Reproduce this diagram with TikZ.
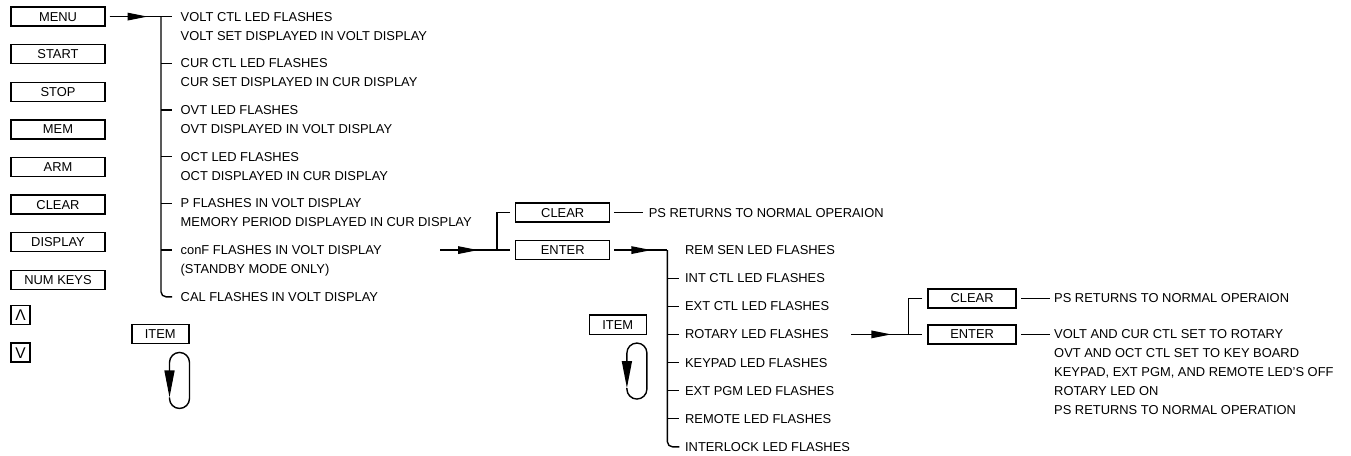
\documentclass[tikz,border=0pt]{standalone}
\usepackage{fontspec}
\setmainfont{Liberation Sans}
\usetikzlibrary{arrows.meta,positioning}

\begin{document}
\begin{tikzpicture}[x=1pt,y=1pt,line width=1.4pt,node distance=37.6pt,
	key node/.style={draw,minimum width=94pt,minimum height=19pt,inner sep=0pt,
		text height=9pt,text depth=0pt,font=\fontsize{12.9}{14}\selectfont},
	small key/.style={draw,minimum size=19pt,inner sep=0pt,text height=11pt,text depth=0pt,
		font=\fontsize{15.5}{16}\selectfont},
	item node/.style={anchor=west,inner sep=0pt,text height=9pt,text depth=0pt,
		font=\fontsize{12.9}{14}\selectfont},
	flow/.style={-{Triangle[length=20pt,width=7.5pt]}},
	item loop/.style={-{Triangle[length=27pt,width=10pt]},rounded corners=10pt}]
	
	\useasboundingbox (0,0) rectangle (1351,-455);
	
	\node[key node] (menu) at (58,-16.6) {MENU};
	\node[key node] (start) [below of=menu] {START};
	\node[key node] (stop) [below of=start] {STOP};
	\node[key node] (mem) [below of=stop] {MEM};
	\node[key node] (arm) [below of=mem] {ARM};
	\node[key node] (clear) [below of=arm] {CLEAR};
	\node[key node] (display) [below of=clear] {DISPLAY};
	\node[key node] (numkeys) [below of=display] {NUM KEYS};
	\node[small key] (up) at (20.5,-315) {Λ};
	\node[small key] (down) [below of=up] {V};
	
	\node[item node] (voltctl) at (180,-16.6) {VOLT CTL LED FLASHES};
	\node[item node] (voltset) [below=19pt of voltctl.west,anchor=west] {VOLT SET DISPLAYED IN VOLT DISPLAY};
	\node[item node] (curctl) [below=46.7pt of voltctl.west,anchor=west] {CUR CTL LED FLASHES};
	\node[item node] (curset) [below=19pt of curctl.west,anchor=west] {CUR SET DISPLAYED IN CUR DISPLAY};
	\node[item node] (ovtled) [below=46.7pt of curctl.west,anchor=west] {OVT LED FLASHES};
	\node[item node] (ovtdisp) [below=19pt of ovtled.west,anchor=west] {OVT DISPLAYED IN VOLT DISPLAY};
	\node[item node] (octled) [below=46.7pt of ovtled.west,anchor=west] {OCT LED FLASHES};
	\node[item node] (octdisp) [below=19pt of octled.west,anchor=west] {OCT DISPLAYED IN CUR DISPLAY};
	\node[item node] (pflash) [below=46.7pt of octled.west,anchor=west] {P FLASHES IN VOLT DISPLAY};
	\node[item node] (memper) [below=19pt of pflash.west,anchor=west] {MEMORY PERIOD DISPLAYED IN CUR DISPLAY};
	\node[item node] (conf) [below=46.7pt of pflash.west,anchor=west] {conF FLASHES IN VOLT DISPLAY};
	\node[item node] (standby) [below=19pt of conf.west,anchor=west] {(STANDBY MODE ONLY)};
	\node[item node] (cal) [below=46.7pt of conf.west,anchor=west] {CAL FLASHES IN VOLT DISPLAY};
	
	\coordinate (mbus) at (161,-16.6);
	\draw ([xshift=4pt]menu.east) -- (mbus);
	\draw[flow] ([xshift=4pt]menu.east) -- ++(38,0);
	\draw[rounded corners=5pt] (mbus) |- ([xshift=-8pt]cal.west);
	\draw (voltctl.west -| mbus) -- ([xshift=-8pt]voltctl.west)
		(curctl.west -| mbus) -- ([xshift=-8pt]curctl.west)
		(ovtled.west -| mbus) -- ([xshift=-8pt]ovtled.west)
		(octled.west -| mbus) -- ([xshift=-8pt]octled.west)
		(pflash.west -| mbus) -- ([xshift=-8pt]pflash.west)
		(conf.west -| mbus) -- ([xshift=-8pt]conf.west);
	
	\node[key node,minimum width=57pt,minimum height=19.5pt] (item) at (160.3,-334) {ITEM};
	\draw[item loop] ([shift={(-20,-53)}]item.south east) coordinate (l1) -- ++(0,-11) -- ++(20,0)
		-- ++(0,56) -- ++(-20,0) -- (l1);
	
	\coordinate (confout) at ([xshift=260pt]conf.west);
	\node[key node] (enter) [right=75pt of confout] {ENTER};
	\node[key node] (clear2) [above of=enter] {CLEAR};
	\node[item node] (normal) [right=37.7pt of clear2] {PS RETURNS TO NORMAL OPERAION};
	\coordinate (cbus) at ([xshift=-18pt]enter.west);
	\draw (confout) -- ([xshift=-5pt]enter.west);
	\draw[flow] (confout) -- ++(38,0);
	\draw ([xshift=-5pt]clear2.west) -| (cbus);
	\draw ([xshift=4pt]clear2.east) -- ([xshift=-5pt]normal.west);
	
	\coordinate (ebus) at ([xshift=57pt]enter.east);
	\draw ([xshift=4pt]enter.east) -- (ebus);
	\draw[flow] ([xshift=4pt]enter.east) -- ++(37,0);
	\node[item node] (remsen) [right=17pt of ebus] {REM SEN LED FLASHES};
	\node[item node] (intctl) [below=28.1pt of remsen.west,anchor=west] {INT CTL LED FLASHES};
	\node[item node] (extctl) [below=28.1pt of intctl.west,anchor=west] {EXT CTL LED FLASHES};
	\node[item node] (rotary) [below=28.1pt of extctl.west,anchor=west] {ROTARY LED FLASHES};
	\node[item node] (keypad) [below=28.1pt of rotary.west,anchor=west] {KEYPAD LED FLASHES};
	\node[item node] (extpgm) [below=28.1pt of keypad.west,anchor=west] {EXT PGM LED FLASHES};
	\node[item node] (remote) [below=28.1pt of extpgm.west,anchor=west] {REMOTE LED FLASHES};
	\node[item node] (interlock) [below=28.1pt of remote.west,anchor=west] {INTERLOCK LED FLASHES};
	\draw[rounded corners=5pt] (ebus) |- ([xshift=-5pt]interlock.west);
	\draw (intctl.west -| ebus) -- ([xshift=-5pt]intctl.west)
		(extctl.west -| ebus) -- ([xshift=-5pt]extctl.west)
		(rotary.west -| ebus) -- ([xshift=-5pt]rotary.west)
		(keypad.west -| ebus) -- ([xshift=-5pt]keypad.west)
		(extpgm.west -| ebus) -- ([xshift=-5pt]extpgm.west)
		(remote.west -| ebus) -- ([xshift=-5pt]remote.west);
	
	\node[key node,minimum width=57pt,minimum height=19.5pt] (item2) at (617.7,-324.6) {ITEM};
	\draw[item loop] ([shift={(-20,-53)}]item2.south east) coordinate (l2) -- ++(0,-11) -- ++(20,0)
		-- ++(0,56) -- ++(-20,0) -- (l2);
	
	\coordinate (rotout) at ([xshift=167pt]rotary.west);
	\coordinate (rbus) at ([xshift=57pt]rotout);
	\node[key node,minimum width=88pt] (enter3) [right=19pt of rbus] {ENTER};
	\node[key node,minimum width=88pt] (clear3) [node distance=36pt,above of=enter3] {CLEAR};
	\node[item node] (normal3) [right=36.7pt of clear3] {PS RETURNS TO NORMAL OPERAION};
	\node[item node] (setrot) [right=36.7pt of enter3] {VOLT AND CUR CTL SET TO ROTARY};
	\node[item node] (setkey) [below=19pt of setrot.west,anchor=west] {OVT AND OCT CTL SET TO KEY BOARD};
	\node[item node] (ledoff) [below=19pt of setkey.west,anchor=west] {KEYPAD, EXT PGM, AND REMOTE LED'S OFF};
	\node[item node] (ledon) [below=19pt of ledoff.west,anchor=west] {ROTARY LED ON};
	\node[item node] (normop) [below=19pt of ledon.west,anchor=west] {PS RETURNS TO NORMAL OPERATION};
	\draw (rotout) -- ([xshift=-5pt]enter3.west);
	\draw[flow] (rotout) -- ++(40,0);
	\draw ([xshift=-5pt]clear3.west) -| (rbus);
	\draw ([xshift=4.5pt]clear3.east) -- ([xshift=-3.5pt]normal3.west);
	\draw ([xshift=4.5pt]enter3.east) -- ([xshift=-3.5pt]setrot.west);
\end{tikzpicture}
\end{document}
